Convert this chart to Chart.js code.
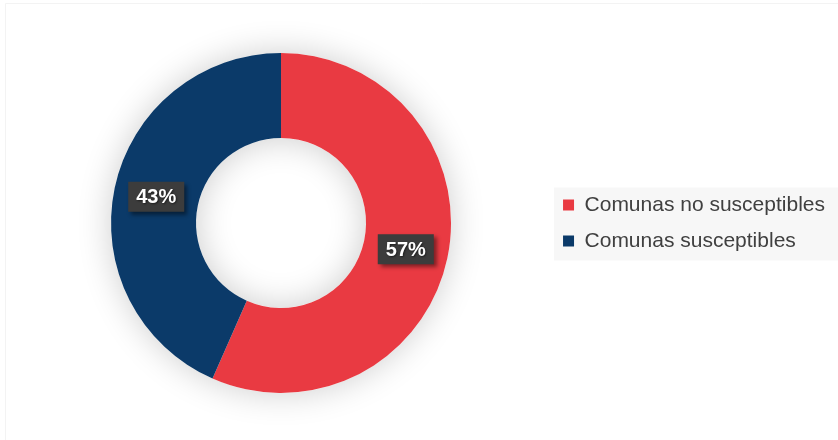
<!DOCTYPE html>
<html>
<head>
<meta charset="utf-8">
<script src="https://cdn.jsdelivr.net/npm/chart.js@4"></script>
<style>
  html, body { margin: 0; padding: 0; background: #ffffff; }
  #wrap { width: 838px; height: 440px; position: relative; }
</style>
</head>
<body>
<div id="wrap"><canvas id="c"></canvas></div>
<script>
const categories = ['Comunas no susceptibles', 'Comunas susceptibles'];
const values = [56.6, 43.4];
const colors = ['#E93A42', '#0B3A69'];

const frameAndLegendBg = {
  id: 'frameAndLegendBg',
  beforeDraw(chart) {
    const ctx = chart.ctx;
    ctx.save();
    ctx.strokeStyle = '#f3f3f3';
    ctx.lineWidth = 1;
    ctx.beginPath();
    ctx.moveTo(5.5, chart.height);
    ctx.lineTo(5.5, 3.5);
    ctx.lineTo(chart.width, 3.5);
    ctx.stroke();
    const lg = chart.legend;
    if (lg && lg.legendHitBoxes && lg.legendHitBoxes.length) {
      const hb = lg.legendHitBoxes;
      const left = Math.min(...hb.map(h => h.left)) - 9;
      const top = Math.min(...hb.map(h => h.top)) - 7;
      const bottom = Math.max(...hb.map(h => h.top + h.height)) + 9;
      ctx.fillStyle = '#f7f7f7';
      ctx.fillRect(left, top, chart.width - left, bottom - top);
    }
    ctx.restore();
  }
};

const ringShadow = {
  id: 'ringShadow',
  beforeDatasetsDraw(chart) {
    const meta = chart.getDatasetMeta(0);
    if (!meta.data.length) return;
    const el = meta.data[0];
    const ctx = chart.ctx;
    ctx.save();
    ctx.shadowColor = 'rgba(0,0,0,0.2)';
    ctx.shadowBlur = 34;
    ctx.fillStyle = '#ffffff';
    ctx.beginPath();
    ctx.arc(el.x, el.y, el.outerRadius, 0, Math.PI * 2);
    ctx.arc(el.x, el.y, el.innerRadius, 0, Math.PI * 2, true);
    ctx.closePath();
    ctx.fill('evenodd');
    ctx.restore();
  }
};

const valueLabels = {
  id: 'valueLabels',
  afterDatasetsDraw(chart) {
    const meta = chart.getDatasetMeta(0);
    const data = chart.data.datasets[0].data;
    const total = data.reduce((a, b) => a + b, 0);
    const ctx = chart.ctx;
    meta.data.forEach((arc, i) => {
      const p = arc.tooltipPosition();
      const txt = Math.round(data[i] / total * 100) + '%';
      ctx.save();
      ctx.font = 'bold 20px "Liberation Sans", Arial, sans-serif';
      const w = ctx.measureText(txt).width + 16;
      const h = 30;
      ctx.shadowColor = 'rgba(0,0,0,0.45)';
      ctx.shadowBlur = 4;
      ctx.shadowOffsetX = 3;
      ctx.shadowOffsetY = 3;
      ctx.fillStyle = '#3c3c3c';
      ctx.fillRect(p.x - w / 2, p.y - h / 2, w, h);
      ctx.shadowColor = 'rgba(0,0,0,0.5)';
      ctx.shadowBlur = 2;
      ctx.shadowOffsetX = 1;
      ctx.shadowOffsetY = 1;
      ctx.fillStyle = '#ffffff';
      ctx.textAlign = 'center';
      ctx.textBaseline = 'middle';
      ctx.fillText(txt, p.x, p.y + 1);
      ctx.restore();
    });
  }
};

new Chart(document.getElementById('c'), {
  type: 'doughnut',
  data: {
    labels: categories,
    datasets: [{
      data: values,
      backgroundColor: colors,
      borderWidth: 0,
      hoverOffset: 0
    }]
  },
  options: {
    responsive: true,
    maintainAspectRatio: false,
    animation: false,
    cutout: '50%',
    layout: { padding: { left: 14, right: 3, top: 53, bottom: 47 } },
    plugins: {
      tooltip: { enabled: false },
      legend: {
        position: 'right',
        labels: {
          boxWidth: 11,
          boxHeight: 11,
          padding: 15,
          color: '#404040',
          font: { family: '"Liberation Sans", Arial, sans-serif', size: 21 }
        }
      }
    }
  },
  plugins: [frameAndLegendBg, ringShadow, valueLabels]
});
</script>
</body>
</html>
